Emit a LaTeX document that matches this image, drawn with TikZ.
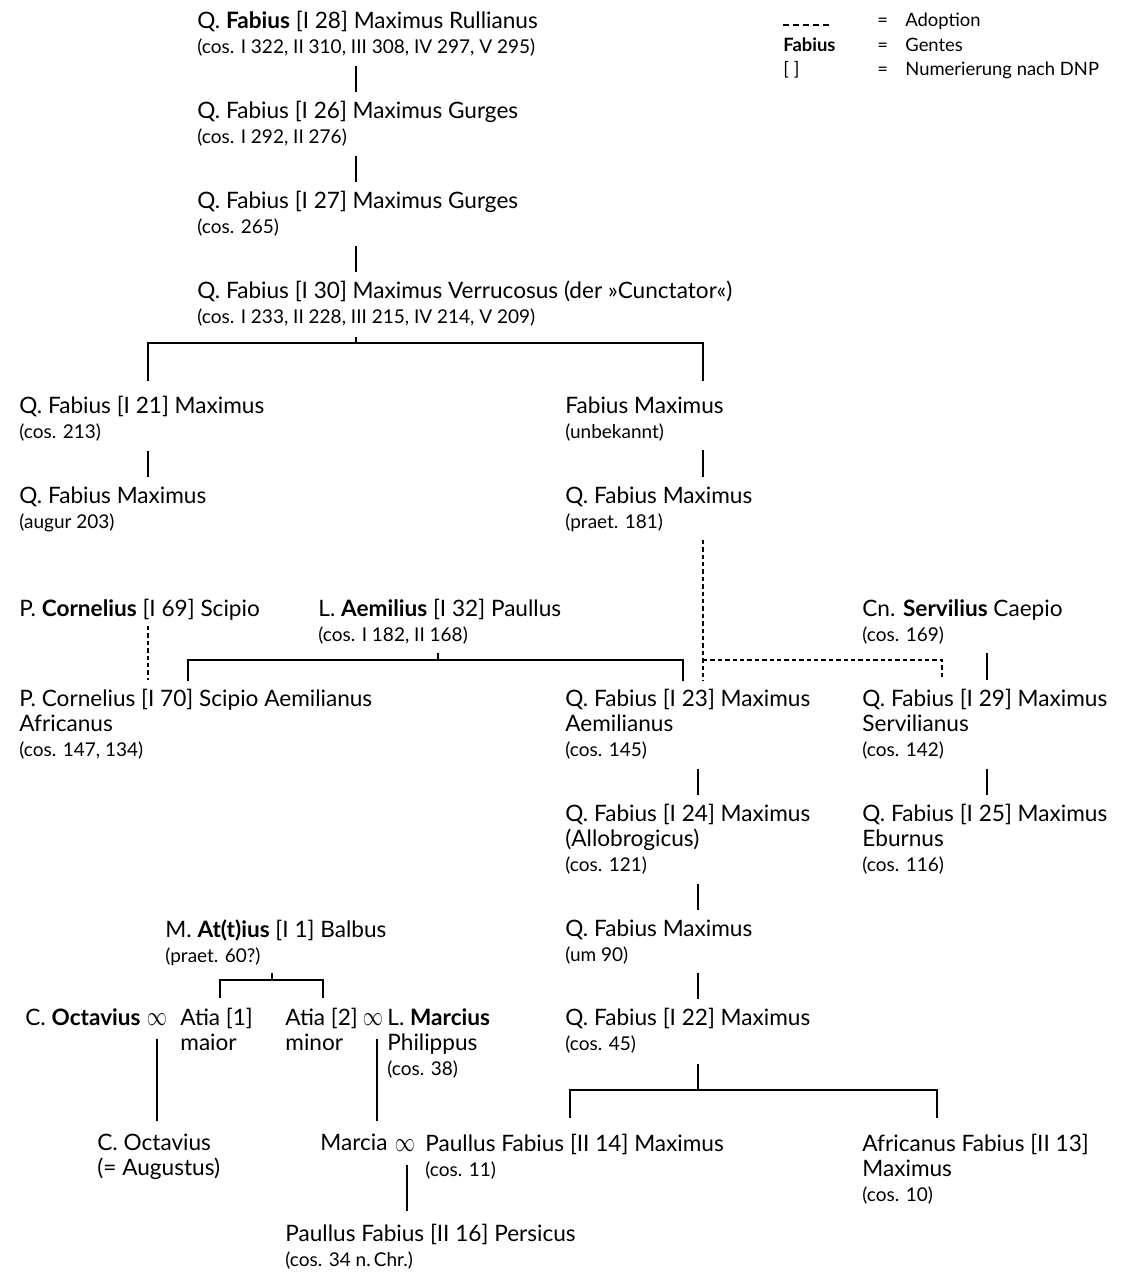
\documentclass[tikz,border=0pt]{standalone}
\usepackage{fontspec}
\setmainfont{Lato}
\usepackage{tikz}
\usetikzlibrary{positioning}

\newcommand{\namefont}{\fontsize{11.3}{12.5}\selectfont}
\newcommand{\yrsfont}{\fontsize{9.5}{12.5}\selectfont}
\newcommand{\legfont}{\fontsize{9.2}{12}\selectfont}
\newcommand{\yrs}[1]{{\yrsfont #1}}
\newcommand{\oo}{\raisebox{-0.2pt}{\scalebox{0.92}[1.25]{$\infty$}}}

\begin{document}
\begin{tikzpicture}[x=0.5pt,y=-0.5pt,
    person/.style={anchor=north west,inner sep=0pt,align=left,font=\namefont},
    wed/.style={anchor=base,inner sep=0pt,font=\namefont},
    legend/.style={anchor=base west,inner sep=0pt,font=\legfont},
    link/.style={draw,line width=0.9pt},
    adopt/.style={draw,line width=0.9pt,dash pattern=on 2.2pt off 1.5pt},
    gap/.style={shorten <=#1,shorten >=#1},
    gap/.default=4.5pt]

  \useasboundingbox (0,0) rectangle (1134,1273);

  % legend
  \coordinate (dashA) at (783,25);
  \coordinate (dashB) at (832,25);
  \path [draw,line width=0.8pt,dash pattern=on 3pt off 2pt] (dashA) -- (dashB);
  \node [legend] (legAdopt) at (877,27) {\makebox[14pt][l]{=}Adoption};
  \node [legend] (legGens) at (783,52) {\textbf{Fabius}};
  \node [legend] (legGensV) at (877,52) {\makebox[14pt][l]{=}Gentes};
  \node [legend] (legNum) at (783,76) {[ ]};
  \node [legend] (legNumV) at (877,76) {\makebox[14pt][l]{=}Numerierung nach DNP};

  % persons
  \node [person] (rull) at (197,11) {Q. \textbf{Fabius} [I 28] Maximus Rullianus\\\yrs{(cos. I 322, II 310, III 308, IV 297, V 295)}};
  \node [person] (gurA) at (197,101) {Q. Fabius [I 26] Maximus Gurges\\\yrs{(cos. I 292, II 276)}};
  \node [person] (gurB) at (197,191) {Q. Fabius [I 27] Maximus Gurges\\\yrs{(cos. 265)}};
  \node [person] (verr) at (197,281) {Q. Fabius [I 30] Maximus Verrucosus (der »Cunctator«)\\\yrs{(cos. I 233, II 228, III 215, IV 214, V 209)}};

  \node [person] (maxA) at (19,396) {Q. Fabius [I 21] Maximus\\\yrs{(cos. 213)}};
  \node [person] (augur) at (19,486) {Q. Fabius Maximus\\\yrs{(augur 203)}};
  \node [person] (unbek) at (565,396) {Fabius Maximus\\\yrs{(unbekannt)}};
  \node [person] (praet) at (565,486) {Q. Fabius Maximus\\\yrs{(praet. 181)}};

  \node [person] (scipio) at (19,599) {P. \textbf{Cornelius} [I 69] Scipio};
  \node [person] (paullA) at (318,599) {L. \textbf{Aemilius} [I 32] Paullus\\\yrs{(cos. I 182, II 168)}};
  \node [person] (caepio) at (862,599) {Cn. \textbf{Servilius} Caepio\\\yrs{(cos. 169)}};
  \node [person] (africA) at (19,689) {P. Cornelius [I 70] Scipio Aemilianus\\Africanus\\\yrs{(cos. 147, 134)}};
  \node [person] (aemil) at (565,689) {Q. Fabius [I 23] Maximus\\Aemilianus\\\yrs{(cos. 145)}};
  \node [person] (servil) at (862,689) {Q. Fabius [I 29] Maximus\\Servilianus\\\yrs{(cos. 142)}};
  \node [person] (allob) at (565,804) {Q. Fabius [I 24] Maximus\\(Allobrogicus)\\\yrs{(cos. 121)}};
  \node [person] (eburn) at (862,804) {Q. Fabius [I 25] Maximus\\Eburnus\\\yrs{(cos. 116)}};
  \node [person] (um90) at (565,919) {Q. Fabius Maximus\\\yrs{(um 90)}};
  \node [person] (fab22) at (565,1008) {Q. Fabius [I 22] Maximus\\\yrs{(cos. 45)}};

  \node [person] (balbus) at (165,919) {M. \textbf{At(t)ius} [I 1] Balbus\\\yrs{(praet. 60?)}};
  \node [person] (octav) at (25,1008) {C. \textbf{Octavius}};
  \node [wed] (wedA) at (157,1025) {\oo};
  \node [person] (atiaA) at (180,1008) {Atia [1]\\maior};
  \node [person] (atiaB) at (285,1008) {Atia [2]\\minor};
  \node [wed] (wedB) at (373,1025) {\oo};
  \node [person] (marcius) at (387,1008) {L. \textbf{Marcius}\\Philippus\\\yrs{(cos. 38)}};
  \node [person] (august) at (97,1134) {C. Octavius\\(= Augustus)};
  \node [person] (marcia) at (320,1134) {Marcia};
  \node [wed] (wedC) at (405,1151) {\oo};
  \node [person] (paullB) at (425,1134) {Paullus Fabius [II 14] Maximus\\\yrs{(cos. 11)}};
  \node [person] (africB) at (862,1134) {Africanus Fabius [II 13]\\Maximus\\\yrs{(cos. 10)}};
  \node [person] (persic) at (285,1224) {Paullus Fabius [II 16] Persicus\\\yrs{(cos. 34 n.\,Chr.)}};

  % columns and forks
  \coordinate (xRull) at (356,0);
  \coordinate (xLeft) at (148,0);
  \coordinate (xRight) at (703,0);
  \coordinate (xScip) at (188,0);
  \coordinate (xAem) at (683,0);
  \coordinate (xServ) at (942,0);
  \coordinate (xCaep) at (987,0);
  \coordinate (xAll) at (698,0);
  \coordinate (xSons) at (570,0);
  \coordinate (xAfr) at (937,0);
  \coordinate (xAtA) at (220,0);
  \coordinate (xAtB) at (323,0);
  \coordinate (xOct) at (157,0);
  \coordinate (xMar) at (377,0);
  \coordinate (xPers) at (407,0);
  \coordinate (forkVerr) at (356,343);
  \coordinate (forkPaul) at (438,660);
  \coordinate (forkAdopt) at (703,660);
  \coordinate (fork22) at (698,1090);
  \coordinate (forkBal) at (272,980);

  % Fabii Maximi
  \path [link,gap]
    (rull.south -| xRull) edge (gurA.north -| xRull)
    (gurA.south -| xRull) edge (gurB.north -| xRull)
    (gurB.south -| xRull) edge (verr.north -| xRull);

  \path [link,shorten <=5pt] (verr.south -| forkVerr) -- (forkVerr);
  \path [link,gap=7.5pt] (maxA.north -| xLeft) |- (forkVerr) -| (unbek.north -| xRight);

  \path [link,gap]
    (maxA.south -| xLeft) edge (augur.north -| xLeft)
    (unbek.south -| xRight) edge (praet.north -| xRight);

  % adoptions
  \path [adopt,gap=4pt] (praet.south -| xRight) edge (aemil.north -| xRight);
  \path [adopt,shorten >=6pt] (forkAdopt) -| (servil.north -| xServ);
  \path [adopt,shorten <=2.5pt,shorten >=4.5pt] (scipio.south -| xLeft) edge (africA.north -| xLeft);

  % sons of Aemilius Paullus
  \path [link,shorten <=4pt] (paullA.south -| forkPaul) -- (forkPaul);
  \path [link,gap=4pt] (africA.north -| xScip) |- (forkPaul) -| (aemil.north -| xAem);

  \path [link,gap]
    (caepio.south -| xCaep) edge (servil.north -| xCaep)
    (servil.south -| xCaep) edge (eburn.north -| xCaep)
    (aemil.south -| xAll) edge (allob.north -| xAll)
    (allob.south -| xAll) edge (um90.north -| xAll)
    (um90.south -| xAll) edge (fab22.north -| xAll);

  \path [link,shorten <=5pt] (fab22.south -| fork22) -- (fork22);
  \path [link,gap=8pt] (paullB.north -| xSons) |- (fork22) -| (africB.north -| xAfr);

  % Atii
  \path [link,shorten <=3.5pt] (balbus.south -| forkBal) -- (forkBal);
  \path [link,gap=5pt] (atiaA.north -| xAtA) |- (forkBal) -| (atiaB.north -| xAtB);

  \path [link,gap=6.5pt]
    (wedA.south -| xOct) edge (august.north -| xOct)
    (wedB.south -| xMar) edge (marcia.north -| xMar)
    (wedC.south -| xPers) edge (persic.north -| xPers);

\end{tikzpicture}
\end{document}
